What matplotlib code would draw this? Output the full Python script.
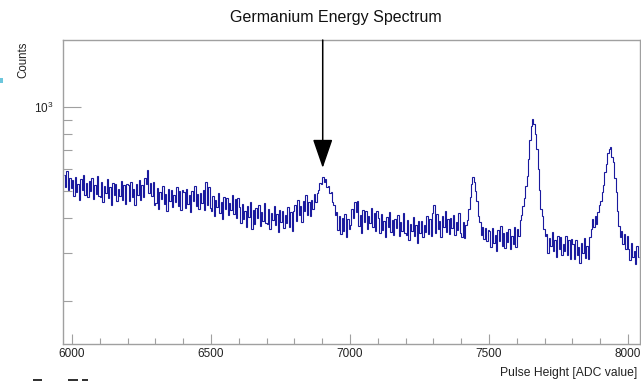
import matplotlib
matplotlib.use("Agg")
import matplotlib.pyplot as plt
import numpy as np
from matplotlib.ticker import LogLocator, NullFormatter, MultipleLocator, FixedLocator
from matplotlib.patches import Rectangle

plt.rcParams['font.family'] = ['Liberation Sans', 'DejaVu Sans']
plt.rcParams['mathtext.default'] = 'regular'

title = "Germanium Energy Spectrum"
x_label = "Pulse Height [ADC value]"
y_label = "Counts"
bin_start = 5970
bin_width = 5
x_ticks = [6000, 6500, 7000, 7500, 8000]
arrow_x = 6902
arrow_tip = 605

counts_5970 = [572, 518, 589, 502, 556, 513]
counts_6000 = [
    546, 479, 561, 494, 530, 464, 551, 505, 572, 484, 536, 474, 541, 500, 556, 469, 525, 489, 567, 479,
    475, 540, 455, 520, 490, 550, 470, 515, 445, 535, 485, 530, 460, 510, 480, 545, 465, 525, 450, 530,
    525, 460, 540, 475, 510, 446, 530, 485, 549, 465, 525, 474, 557, 529, 594, 491, 536, 480, 539, 446,
    451, 513, 432, 494, 466, 523, 447, 489, 423, 508, 461, 504, 437, 485, 456, 518, 442, 499, 428, 504,
    496, 435, 510, 449, 482, 421, 501, 459, 519, 440, 487, 431, 491, 454, 505, 426, 540, 445, 515, 435,
]
counts_6500 = [
    423, 481, 405, 463, 436, 490, 418, 458, 396, 476, 432, 472, 409, 454, 427, 485, 414, 467, 400, 472,
    437, 383, 449, 396, 424, 371, 441, 404, 457, 365, 428, 379, 433, 400, 445, 375, 420, 391, 453, 383,
    380, 432, 364, 416, 392, 440, 376, 412, 356, 428, 388, 424, 368, 408, 384, 436, 372, 420, 360, 424,
    445, 391, 463, 408, 441, 387, 460, 423, 483, 409, 456, 405, 462, 432, 486, 455, 490, 505, 535, 528,
    562, 540, 553, 515, 520, 490, 495, 455, 445, 410, 420, 362, 405, 350, 398, 360, 412, 340, 395, 365,
]
counts_7000 = [
    378, 430, 400, 455, 420, 460, 374, 410, 354, 426, 386, 422, 366, 406, 382, 434, 370, 418, 358, 422,
    401, 352, 412, 363, 389, 340, 404, 370, 420, 355, 393, 348, 397, 367, 408, 344, 386, 359, 416, 352,
    347, 394, 332, 380, 358, 402, 343, 376, 325, 391, 354, 389, 340, 377, 355, 405, 350, 395, 345, 415,
    445, 353, 414, 365, 391, 342, 407, 372, 422, 357, 395, 350, 399, 369, 410, 346, 388, 361, 418, 353,
    342, 385, 338, 378, 392, 430, 475, 530, 562, 540, 500, 460, 405, 385, 348, 372, 335, 368, 330, 362,
]
counts_7500 = [
    358, 314, 368, 324, 348, 304, 362, 331, 375, 318, 352, 311, 355, 328, 365, 308, 345, 321, 372, 314,
    365, 345, 392, 410, 440, 472, 520, 565, 650, 760, 860, 905, 870, 800, 705, 600, 505, 430, 405, 365,
    345, 350, 300, 338, 318, 355, 303, 332, 288, 345, 310, 340, 295, 322, 304, 345, 295, 332, 285, 335,
    323, 284, 332, 293, 314, 275, 326, 299, 339, 287, 318, 285, 340, 365, 395, 372, 405, 380, 420, 445,
    460, 495, 525, 585, 625, 685, 705, 718, 665, 635, 555, 495, 425, 375, 340, 358, 322, 350, 310, 345,
]
counts_8000 = [310, 282, 325, 290, 305, 272, 318, 290]

counts = np.array(counts_5970 + counts_6000 + counts_6500 + counts_7000 + counts_7500 + counts_8000, dtype=float)
edges = bin_start + bin_width * np.arange(len(counts) + 1)

fig = plt.figure(figsize=(6.41, 3.81), dpi=100)
ax = fig.add_axes([63 / 641, 1 - 344 / 381, 577 / 641, 304 / 381])

ax.stairs(counts, edges, baseline=None, color='#1a1a9e', lw=0.8)

ax.set_yscale('log')
ax.set_xlim(5968, 8043)
ax.set_ylim(140.6, 1747)

frame_col = '#a0a0a0'
for s in ax.spines.values():
    s.set_color(frame_col)
    s.set_linewidth(1.0)

ax.xaxis.set_major_locator(FixedLocator(x_ticks))
ax.xaxis.set_minor_locator(MultipleLocator(100))
ax.yaxis.set_major_locator(LogLocator(base=10, numticks=10))
ax.yaxis.set_minor_locator(LogLocator(base=10, subs=np.arange(2, 10), numticks=20))
ax.yaxis.set_minor_formatter(NullFormatter())

ax.tick_params(axis='x', which='major', direction='in', length=7.5, width=0.8, color=frame_col,
               labelsize=8.5, labelcolor='#222222', pad=3)
ax.tick_params(axis='x', which='minor', direction='in', length=4.5, width=0.8, color=frame_col)
ax.tick_params(axis='y', which='major', direction='in', length=13, width=0.8, color=frame_col,
               labelsize=8.5, labelcolor='#222222', pad=7)
ax.tick_params(axis='y', which='minor', direction='in', length=6.5, width=0.8, color=frame_col)

ax.set_title(title, fontsize=11.5, x=(336 - 63) / 577, pad=13, color='#111111')

ax.set_xlabel(x_label, fontsize=8.7, loc='right', color='#222222')
ax.xaxis.set_label_coords((637 - 63) / 577, (344 - 373) / 304)
ax.xaxis.label.set(ha='right', va='center')

ax.set_ylabel(y_label, fontsize=8.3, loc='top', color='#222222')
ax.yaxis.label.set(rotation_mode='default', ha='center', va='top')
ax.yaxis.set_label_coords((23 - 63) / 577, (344 - 42) / 304)

ax.annotate('', xy=(arrow_x, arrow_tip), xytext=(arrow_x, 1747),
            arrowprops=dict(arrowstyle='-|>,head_length=1.8,head_width=0.62',
                            mutation_scale=10, color='black', lw=1.1,
                            shrinkA=0, shrinkB=0))

# cropped fragments at the image edges
fig.patches.append(Rectangle((0, 1 - 83 / 381), 3 / 641, 5 / 381, transform=fig.transFigure,
                             color='#6cc6dc', lw=0))
for x0, w in [(33, 9), (68, 10), (82, 6)]:
    fig.patches.append(Rectangle((x0 / 641, 0), w / 641, 2.5 / 381, transform=fig.transFigure,
                                 color='#333333', lw=0))

fig.savefig('out.png', dpi=100)
